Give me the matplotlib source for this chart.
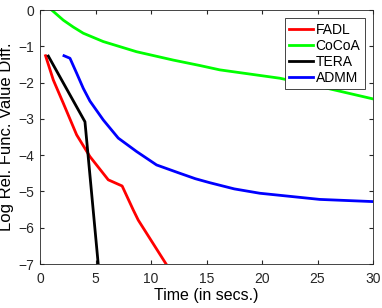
import matplotlib.pyplot as plt
import numpy as np

plt.rcParams['font.family'] = ['Liberation Sans', 'DejaVu Sans']

# FADL
fadl_t = [0.5, 1.2, 2.1, 3.3, 4.5, 6.15, 7.4, 8.4, 8.85, 11.4]
fadl_y = [-1.26, -1.93, -2.57, -3.44, -4.04, -4.68, -4.85, -5.51, -5.79, -7.02]
# CoCoA
cocoa_t = [1.05, 2.1, 3.0, 3.9, 5.7, 8.7, 12.0, 14.4, 16.2, 21.6, 25.2, 30]
cocoa_y = [0.0, -0.28, -0.47, -0.64, -0.87, -1.15, -1.38, -1.53, -1.65, -1.88, -2.11, -2.45]
# TERA
tera_t = [0.75, 4.05, 5.25]
tera_y = [-1.27, -3.08, -7.02]
# ADMM
admm_t = [2.16, 2.7, 3.3, 3.9, 4.5, 5.7, 7.05, 8.7, 10.5, 12.6, 14.0, 15.3, 17.5, 19.8, 25.2, 30]
admm_y = [-1.26, -1.33, -1.74, -2.16, -2.51, -3.03, -3.53, -3.9, -4.27, -4.5, -4.65, -4.76,
          -4.93, -5.05, -5.22, -5.28]

fig = plt.figure(figsize=(3.82, 3.08), dpi=100)
ax = fig.add_axes([40/382, 1-264/308, 333/382, 254/308])

ax.plot(fadl_t, fadl_y, color='#ff0000', lw=2, label='FADL')
ax.plot(cocoa_t, cocoa_y, color='#00ff00', lw=2, label='CoCoA')
ax.plot(tera_t, tera_y, color='#000000', lw=2, label='TERA')
ax.plot(admm_t, admm_y, color='#0000ff', lw=2, label='ADMM')

ax.set_xlim(0, 30)
ax.set_ylim(-7, 0)
ax.set_xticks(np.arange(0, 31, 5))
ax.set_yticks(np.arange(-7, 1, 1))
ax.tick_params(direction='in', top=True, right=True, labelsize=10, colors='#262626', length=3)
ax.tick_params(axis='x', pad=6)
ax.tick_params(axis='y', pad=4)
for s in ax.spines.values():
    s.set_color('#262626')
    s.set_linewidth(0.6)
ax.set_xlabel('Time (in secs.)', fontsize=11.5, labelpad=1)
ax.set_ylabel('Log Rel. Func. Value Diff.', fontsize=12, labelpad=3)

leg = ax.legend(loc='upper right', fontsize=10, frameon=True, fancybox=False,
                handlelength=1.75, handletextpad=0.2, borderpad=0.3, labelspacing=0.15,
                borderaxespad=0.6, framealpha=1)
leg.get_frame().set_edgecolor('#262626')
leg.get_frame().set_linewidth(0.6)

fig.savefig('out.png', dpi=100)
